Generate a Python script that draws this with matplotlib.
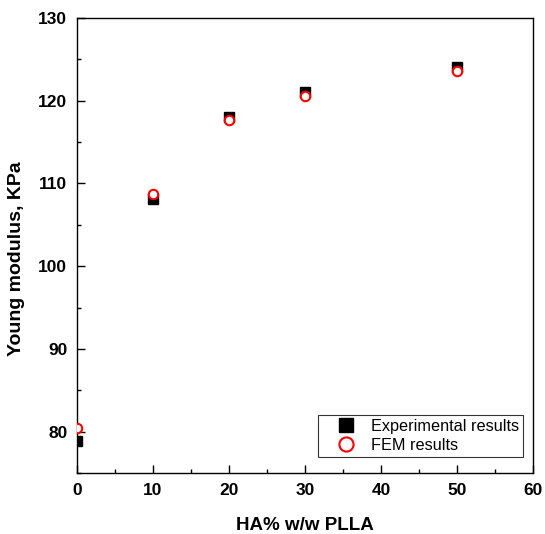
import matplotlib
matplotlib.use("Agg")
import matplotlib.pyplot as plt
from matplotlib.ticker import MultipleLocator

plt.rcParams['font.family'] = ['Liberation Sans', 'DejaVu Sans']

ha = [0, 10, 20, 30, 50]
exp_vals = [78.9, 108.1, 118.0, 121.0, 124.1]
fem_vals = [80.4, 108.7, 117.7, 120.6, 123.6]

fig = plt.figure(figsize=(5.45, 5.34), dpi=100)
ax = fig.add_axes([0.1413, 0.1142, 0.8367, 0.8521])

ax.plot(ha, exp_vals, linestyle='none', marker='s', markersize=7,
        color='black', markeredgecolor='black', label='Experimental results', zorder=3)
ax.plot(ha, fem_vals, linestyle='none', marker='o', markersize=6.8,
        markerfacecolor='white', markeredgecolor='red', markeredgewidth=1.5,
        label='FEM results', zorder=4)

ax.set_xlim(0, 60)
ax.set_ylim(75, 130)
ax.xaxis.set_major_locator(MultipleLocator(10))
ax.xaxis.set_minor_locator(MultipleLocator(5))
ax.yaxis.set_major_locator(MultipleLocator(10))
ax.yaxis.set_minor_locator(MultipleLocator(5))
ax.tick_params(which='both', direction='in', top=False, right=False, width=1.0)
ax.tick_params(which='major', length=6, labelsize=12.5, pad=7)
ax.tick_params(which='minor', length=3)
for lab in ax.get_xticklabels() + ax.get_yticklabels():
    lab.set_fontweight('bold')
for s in ax.spines.values():
    s.set_linewidth(1.0)

ax.set_xlabel('HA% w/w PLLA', fontsize=13.5, fontweight='bold', labelpad=14)
ax.set_ylabel('Young modulus, KPa', fontsize=14, fontweight='bold')
ax.yaxis.set_label_coords(-0.115, 0.47)

leg = ax.legend(loc='lower right', bbox_to_anchor=(0.978, 0.035), fontsize=11.7,
                frameon=True, fancybox=False, edgecolor='black', markerscale=1.5,
                handletextpad=0.0, borderpad=0.25, labelspacing=0.25, handlelength=3.0,
                borderaxespad=0.0)
leg.get_frame().set_linewidth(0.8)

fig.savefig('out.png', dpi=100, facecolor='white')
